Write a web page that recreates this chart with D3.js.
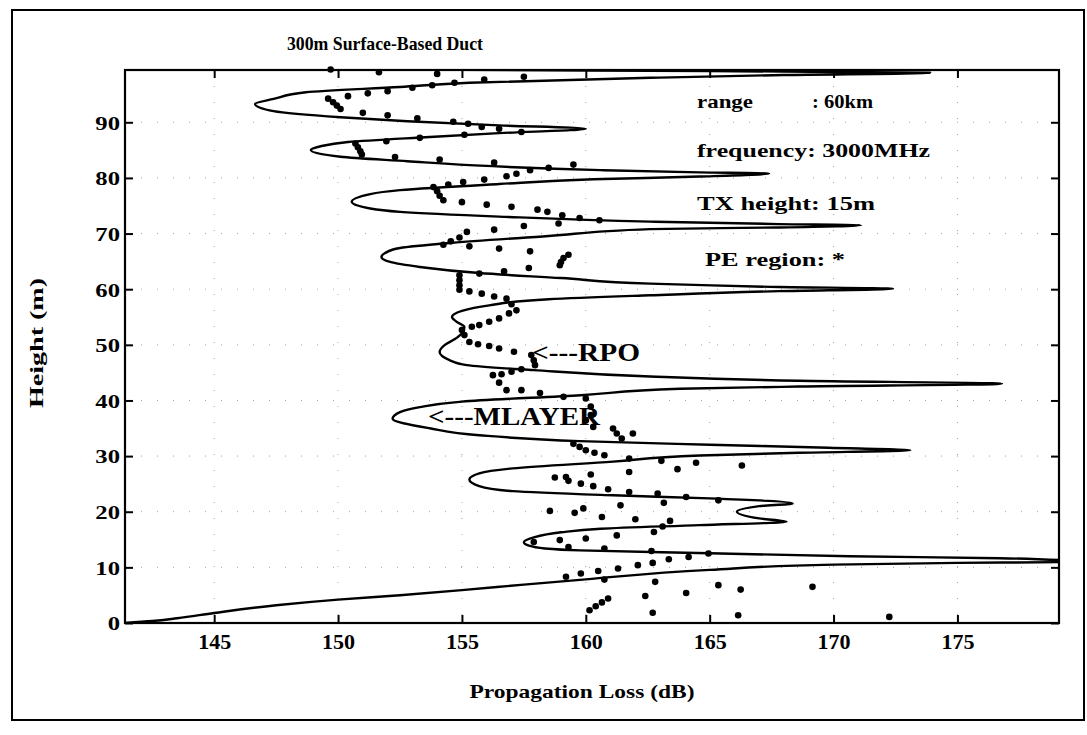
<!DOCTYPE html>
<html><head><meta charset="utf-8">
<script src="https://cdn.jsdelivr.net/npm/d3@7"></script>
<style>body{margin:0;background:#fff}</style>
</head><body><svg id="c" width="1087" height="735"></svg>
<script>
const xTicks=[145,150,155,160,165,170,175];
const yTicks=[0,10,20,30,40,50,60,70,80,90];
const titleText="300m Surface-Based Duct";
const xLabel="Propagation Loss (dB)";
const yLabel="Height (m)";
const infoLines=["frequency: 3000MHz","TX height: 15m","PE region: *"];

// solid curve (MLAYER): loss vs height
const mlayerLoss=[141.4,142.5,143.5,145,147.5,150,152.5,155,157.5,160,165,170,175,179.1,181,179.1,176.7,170.65,165,159.75,158.35,157.7,157.5,157.9,159.0,160.6,164.6,168.1,167.0,166.1,167.0,168.35,165.0,161.1,157.05,155.7,155.3,155.7,157.05,161.1,164.6,168.6,173.1,169.8,165.0,159.75,155.7,153.7,152.2,152.5,153.3,155.0,159.8,163.8,168.6,176.8,168.6,162.6,157.9,155.2,154.5,154.1,154.3,154.7,155.0,155.1,154.8,154.6,155.0,156.1,158.5,162.6,167.8,172.4,167.8,162.6,159.0,155.7,153.3,152.1,151.75,151.9,152.5,154.5,158.5,162.6,167.8,171.1,167.8,162.6,156.5,152.5,151.3,150.55,151.3,152.5,156.5,160.3,164.6,167.4,164.6,160.6,155.3,152.8,150.1,148.9,149.3,150.4,153.7,156.5,160.0,156.5,152.8,150.1,147.4,146.65,147.4,148.7,152.5,155.3,162.6,168.0,173.9,165.0,155.0,148.0];
const mlayerHeight=[0,0.35,0.85,1.8,3.2,4.2,5.0,5.9,6.9,7.85,9.55,10.5,10.8,10.95,11.15,11.35,11.65,12.0,12.55,13.05,13.4,13.9,14.5,15.4,16.3,16.95,17.6,18.2,18.8,20.0,21.0,21.5,22.4,22.95,23.7,24.6,25.8,26.9,27.8,29.0,30.1,30.6,31.05,31.5,32.05,32.7,33.75,35.0,36.7,37.9,38.8,39.8,40.95,42.1,42.5,43.0,43.55,44.3,45.45,46.35,47.25,48.7,49.95,51.0,52.1,53.2,54.1,55.0,56.1,57.1,58.2,58.9,59.65,60.1,60.4,61.0,62.0,62.9,64.0,64.9,65.8,66.5,67.4,68.3,69.55,70.8,71.1,71.5,71.7,72.15,73.05,73.9,74.5,75.7,77.1,77.8,78.9,79.75,80.25,80.8,81.0,81.4,82.3,83.0,83.8,85.0,85.7,86.45,87.35,88.05,88.85,89.45,90.2,90.9,92.0,93.3,94.2,95.4,96.35,97.1,98.0,98.5,98.9,99.2,99.45,99.7];

// PE / RPO points
const rpoLoss=[149.7,151.65,154.0,155.9,157.5,150.4,151.2,152.0,153.0,153.8,154.7,149.6,149.8,149.95,150.1,151.0,152.0,153.2,154.65,155.25,155.8,156.5,157.4,151.95,153.3,155.1,150.7,150.8,150.9,150.96,152.3,154.1,156.3,157.75,158.5,159.5,157.2,156.8,155.9,155.05,154.45,153.85,154.0,154.1,154.25,155.0,156.0,157.0,158.05,158.45,159.05,159.75,160.55,158.9,154.25,154.55,154.9,155.2,156.3,157.5,155.3,156.5,157.75,158.95,159.0,159.1,159.3,157.7,156.7,155.7,154.9,154.9,154.9,154.9,155.3,155.8,156.3,156.8,157.0,157.2,156.9,156.5,156.1,155.7,155.4,155.0,155.1,155.3,155.65,156.1,156.5,157.1,157.8,157.9,157.95,157.4,157.0,156.6,156.25,156.5,156.8,157.4,158.15,159.1,160.0,160.2,160.2,160.0,160.3,161.1,161.25,161.45,161.9,159.5,159.75,160.0,160.35,160.75,161.75,163.05,164.45,166.3,163.7,161.75,160.2,159.2,158.75,159.3,159.8,160.3,160.9,161.75,162.9,164.05,165.35,163.15,161.4,158.55,159.55,159.9,160.65,162.0,162.75,163.1,163.4,161.25,160.0,158.95,157.9,159.3,160.75,162.65,164.95,164.15,163.35,162.7,162.1,161.3,160.5,159.8,159.2,160.75,162.8,165.35,166.25,169.15,164.05,162.4,160.15,160.4,160.65,160.9,162.7,166.15,172.25];
const rpoHeight=[99.5,99.0,98.7,97.7,98.2,94.7,95.2,95.6,96.2,96.65,97.1,94.25,93.6,93.0,92.4,91.7,91.25,90.7,90.1,89.75,89.15,88.85,88.25,86.6,87.2,87.75,86.2,85.5,84.8,84.2,83.75,83.3,82.75,81.4,81.8,82.4,80.75,80.3,79.7,79.25,78.8,78.35,77.6,76.8,76.0,75.65,75.2,74.8,74.3,73.9,73.3,72.8,72.4,71.8,68.0,68.6,69.3,70.3,70.7,71.35,67.7,67.3,66.8,64.3,64.9,65.6,66.2,63.8,63.2,62.8,62.5,61.6,60.7,59.9,59.6,59.2,58.7,58.3,57.3,56.2,55.65,54.75,54.15,53.55,53.25,52.65,51.75,50.5,50.1,49.8,49.35,48.75,48.15,47.2,46.35,45.6,45.15,44.7,44.55,43.2,41.85,41.85,41.35,40.65,40.35,38.9,37.4,36.4,35.25,34.95,34.05,33.15,34.05,32.2,31.65,31.05,30.6,30.15,29.55,29.15,28.8,28.3,27.65,27.15,26.7,26.25,26.15,25.55,25.05,24.6,24.05,23.55,23.25,22.65,22.05,21.6,21.15,20.15,19.8,20.6,19.05,18.65,16.35,17.35,18.35,15.75,15.2,14.9,14.55,13.65,13.4,12.95,12.5,11.85,11.45,10.8,10.4,9.8,9.35,8.9,8.3,7.8,7.4,6.8,6.0,6.5,5.4,4.85,2.3,3.0,3.7,4.4,1.85,1.4,1.1];

const FONT='"Liberation Serif","Times New Roman",serif';
const svg=d3.select("#c");
const L=125,R=1059,T=70,B=623;
const x=d3.scaleLinear().domain([141.4,179.1]).range([L,R]);
const y=d3.scaleLinear().domain([0,99.4]).range([B,T]);

function stretch(sel,f){sel.each(function(){const w=this.getComputedTextLength();d3.select(this).attr("textLength",w*f).attr("lengthAdjust","spacingAndGlyphs");});}

// outer frame
svg.append("rect").attr("x",12).attr("y",10).attr("width",1072).attr("height",710).attr("fill","none").attr("stroke","#000").attr("stroke-width",2);

svg.append("defs").append("clipPath").attr("id","clip").append("rect").attr("x",L).attr("y",T).attr("width",R-L).attr("height",B-T);

// grid
const g=svg.append("g");
g.selectAll("line.gx").data(xTicks).join("line").attr("x1",d=>x(d)).attr("x2",d=>x(d)).attr("y1",T).attr("y2",B)
 .attr("stroke","#555").attr("stroke-width",1).attr("stroke-dasharray","1,15").attr("opacity",0.55);
g.selectAll("line.gy").data(yTicks.filter(d=>d>0)).join("line").attr("y1",d=>y(d)).attr("y2",d=>y(d)).attr("x1",L).attr("x2",R)
 .attr("stroke","#555").attr("stroke-width",1).attr("stroke-dasharray","1,15").attr("opacity",0.55);

// axes
const ax=svg.append("g").attr("transform",`translate(0,${B})`).call(d3.axisBottom(x).tickValues(xTicks).tickSizeInner(-8).tickSizeOuter(0).tickPadding(0));
const ay=svg.append("g").attr("transform",`translate(${L},0)`).call(d3.axisLeft(y).tickValues(yTicks).tickSizeInner(-8).tickSizeOuter(0).tickPadding(5));
const axT=svg.append("g").attr("transform",`translate(0,${T})`).call(d3.axisTop(x).tickValues(xTicks).tickSizeInner(-8).tickSizeOuter(0).tickFormat(""));
const ayR=svg.append("g").attr("transform",`translate(${R},0)`).call(d3.axisRight(y).tickValues(yTicks).tickSizeInner(-8).tickSizeOuter(0).tickFormat(""));
[ax,ay,axT,ayR].forEach(a=>{a.select(".domain").remove();a.selectAll(".tick line").attr("stroke","#000").attr("stroke-width",2);});
ax.selectAll("text").attr("y",26).attr("dy",0).style("font-family",FONT).style("font-weight","bold").style("font-size","21px").attr("fill","#000");
ay.selectAll("text").attr("dy","0.36em").style("font-family",FONT).style("font-weight","bold").style("font-size","19px").attr("fill","#000");
stretch(ax.selectAll("text"),1.05);
stretch(ay.selectAll("text"),1.3);

svg.append("rect").attr("x",L).attr("y",T).attr("width",R-L).attr("height",B-T).attr("fill","none").attr("stroke","#000").attr("stroke-width",2.2);

// curve (single-valued in height)
const pts=mlayerLoss.map((v,i)=>[v,mlayerHeight[i]]);
const line=d3.line().x(d=>x(d[0])).y(d=>y(d[1])).curve(d3.curveMonotoneY);
svg.append("path").attr("clip-path","url(#clip)").attr("d",line(pts)).attr("fill","none").attr("stroke","#000").attr("stroke-width",2.4).attr("stroke-linejoin","round");

// dots
const dots=rpoLoss.map((v,i)=>[v,rpoHeight[i]]);
svg.append("g").selectAll("circle").data(dots).join("circle").attr("cx",d=>x(d[0])).attr("cy",d=>y(d[1])).attr("r",3.3).attr("fill","#000");

// texts
function txt(s,xx,yy,size,weight,anchor){return svg.append("text").attr("x",xx).attr("y",yy).attr("text-anchor",anchor||"start").style("font-family",FONT).style("font-weight",weight).style("font-size",size+"px").attr("fill","#000").text(s);}
txt(titleText,287,50,19,"bold").attr("textLength",196).attr("lengthAdjust","spacingAndGlyphs");
txt("range",697,108,19,"bold").attr("textLength",56).attr("lengthAdjust","spacingAndGlyphs");
txt(": 60km",812,108,19,"bold").attr("textLength",61).attr("lengthAdjust","spacingAndGlyphs");
txt(infoLines[0],697,157,19,"bold").attr("textLength",233).attr("lengthAdjust","spacingAndGlyphs");
txt(infoLines[1],697,210,19,"bold").attr("textLength",178).attr("lengthAdjust","spacingAndGlyphs");
txt(infoLines[2],705,266,19,"bold").attr("textLength",140).attr("lengthAdjust","spacingAndGlyphs");
txt("<---RPO",532,361,25,"bold").attr("textLength",108).attr("lengthAdjust","spacingAndGlyphs");
txt("<---MLAYER",428,425,25,"bold").attr("textLength",172).attr("lengthAdjust","spacingAndGlyphs");
txt(xLabel,582,698,19,"bold","middle").attr("textLength",225).attr("lengthAdjust","spacingAndGlyphs");
svg.append("text").attr("transform","translate(43,343) rotate(-90)").attr("text-anchor","middle").style("font-family",FONT).style("font-weight","bold").style("font-size","19px").attr("fill","#000").text(yLabel).attr("textLength",130).attr("lengthAdjust","spacingAndGlyphs");
</script></body></html>
